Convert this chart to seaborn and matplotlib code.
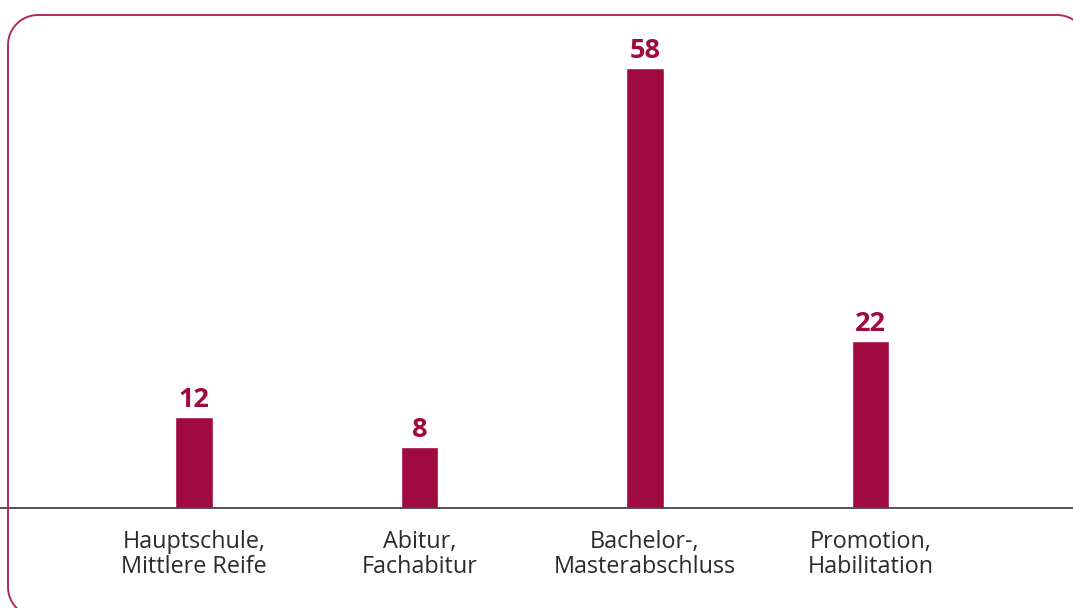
import matplotlib
matplotlib.use("Agg")
import numpy as np
import matplotlib.pyplot as plt
import seaborn as sns
from matplotlib.lines import Line2D

# ===== Data =====
categories = ["Hauptschule,\nMittlere Reife", "Abitur,\nFachabitur",
              "Bachelor-,\nMasterabschluss", "Promotion,\nHabilitation"]
values = [12, 8, 58, 22]

BAR_COLOR = "#A10941"
FRAME_COLOR = "#B02A5C"
TEXT_COLOR = "#2B2B2B"

sns.set_theme(style="white")
plt.rcParams["font.family"] = ["Open Sans", "DejaVu Sans"]

W, H = 1073, 608
fig = plt.figure(figsize=(W / 100, H / 100), dpi=100)
ax = fig.add_axes([0, 100 / H, 1, 493 / H])

sns.barplot(x=categories, y=values, color=BAR_COLOR, width=0.168,
            saturation=1, ax=ax)

# value labels above bars
ax.bar_label(ax.containers[0], padding=3, fontsize=19.5, fontweight="bold",
             color=BAR_COLOR)

# ----------------------------
# axes styling
# ----------------------------
ax.set_xlim(-0.860, 3.898)
ax.set_ylim(0, 64.95)
for s in ax.spines.values():
    s.set_visible(False)
ax.axhline(0, color="#444444", lw=1.3, clip_on=False)
ax.set_yticks([])
ax.set_xlabel("")
ax.set_ylabel("")
ax.tick_params(axis="x", length=0, pad=16, labelsize=16.8, labelcolor=TEXT_COLOR)
for t in ax.get_xticklabels():
    t.set_linespacing(1.05)

# ----------------------------
# rounded frame (pixel coords from top-left, converted to figure fraction)
# ----------------------------
left, top, right, bottom, r = 8, 15, 1087, 617, 30


def arc(cx, cy, a0, a1, n=20):
    a = np.radians(np.linspace(a0, a1, n))
    return cx + r * np.cos(a), cy - r * np.sin(a)


xs, ys = [], []
for seg in [arc(left + r, bottom - r, 270, 180),      # bottom-left
            arc(left + r, top + r, 180, 90),          # top-left
            arc(right - r, top + r, 90, 0),           # top-right
            arc(right - r, bottom - r, 0, -90)]:      # bottom-right
    xs.extend(seg[0])
    ys.extend(seg[1])
xs.append(xs[0])
ys.append(ys[0])

frame = Line2D(np.array(xs) / W, 1 - np.array(ys) / H,
               transform=fig.transFigure, color=FRAME_COLOR, lw=1.4)
fig.add_artist(frame)

fig.savefig("out.png", dpi=100)
